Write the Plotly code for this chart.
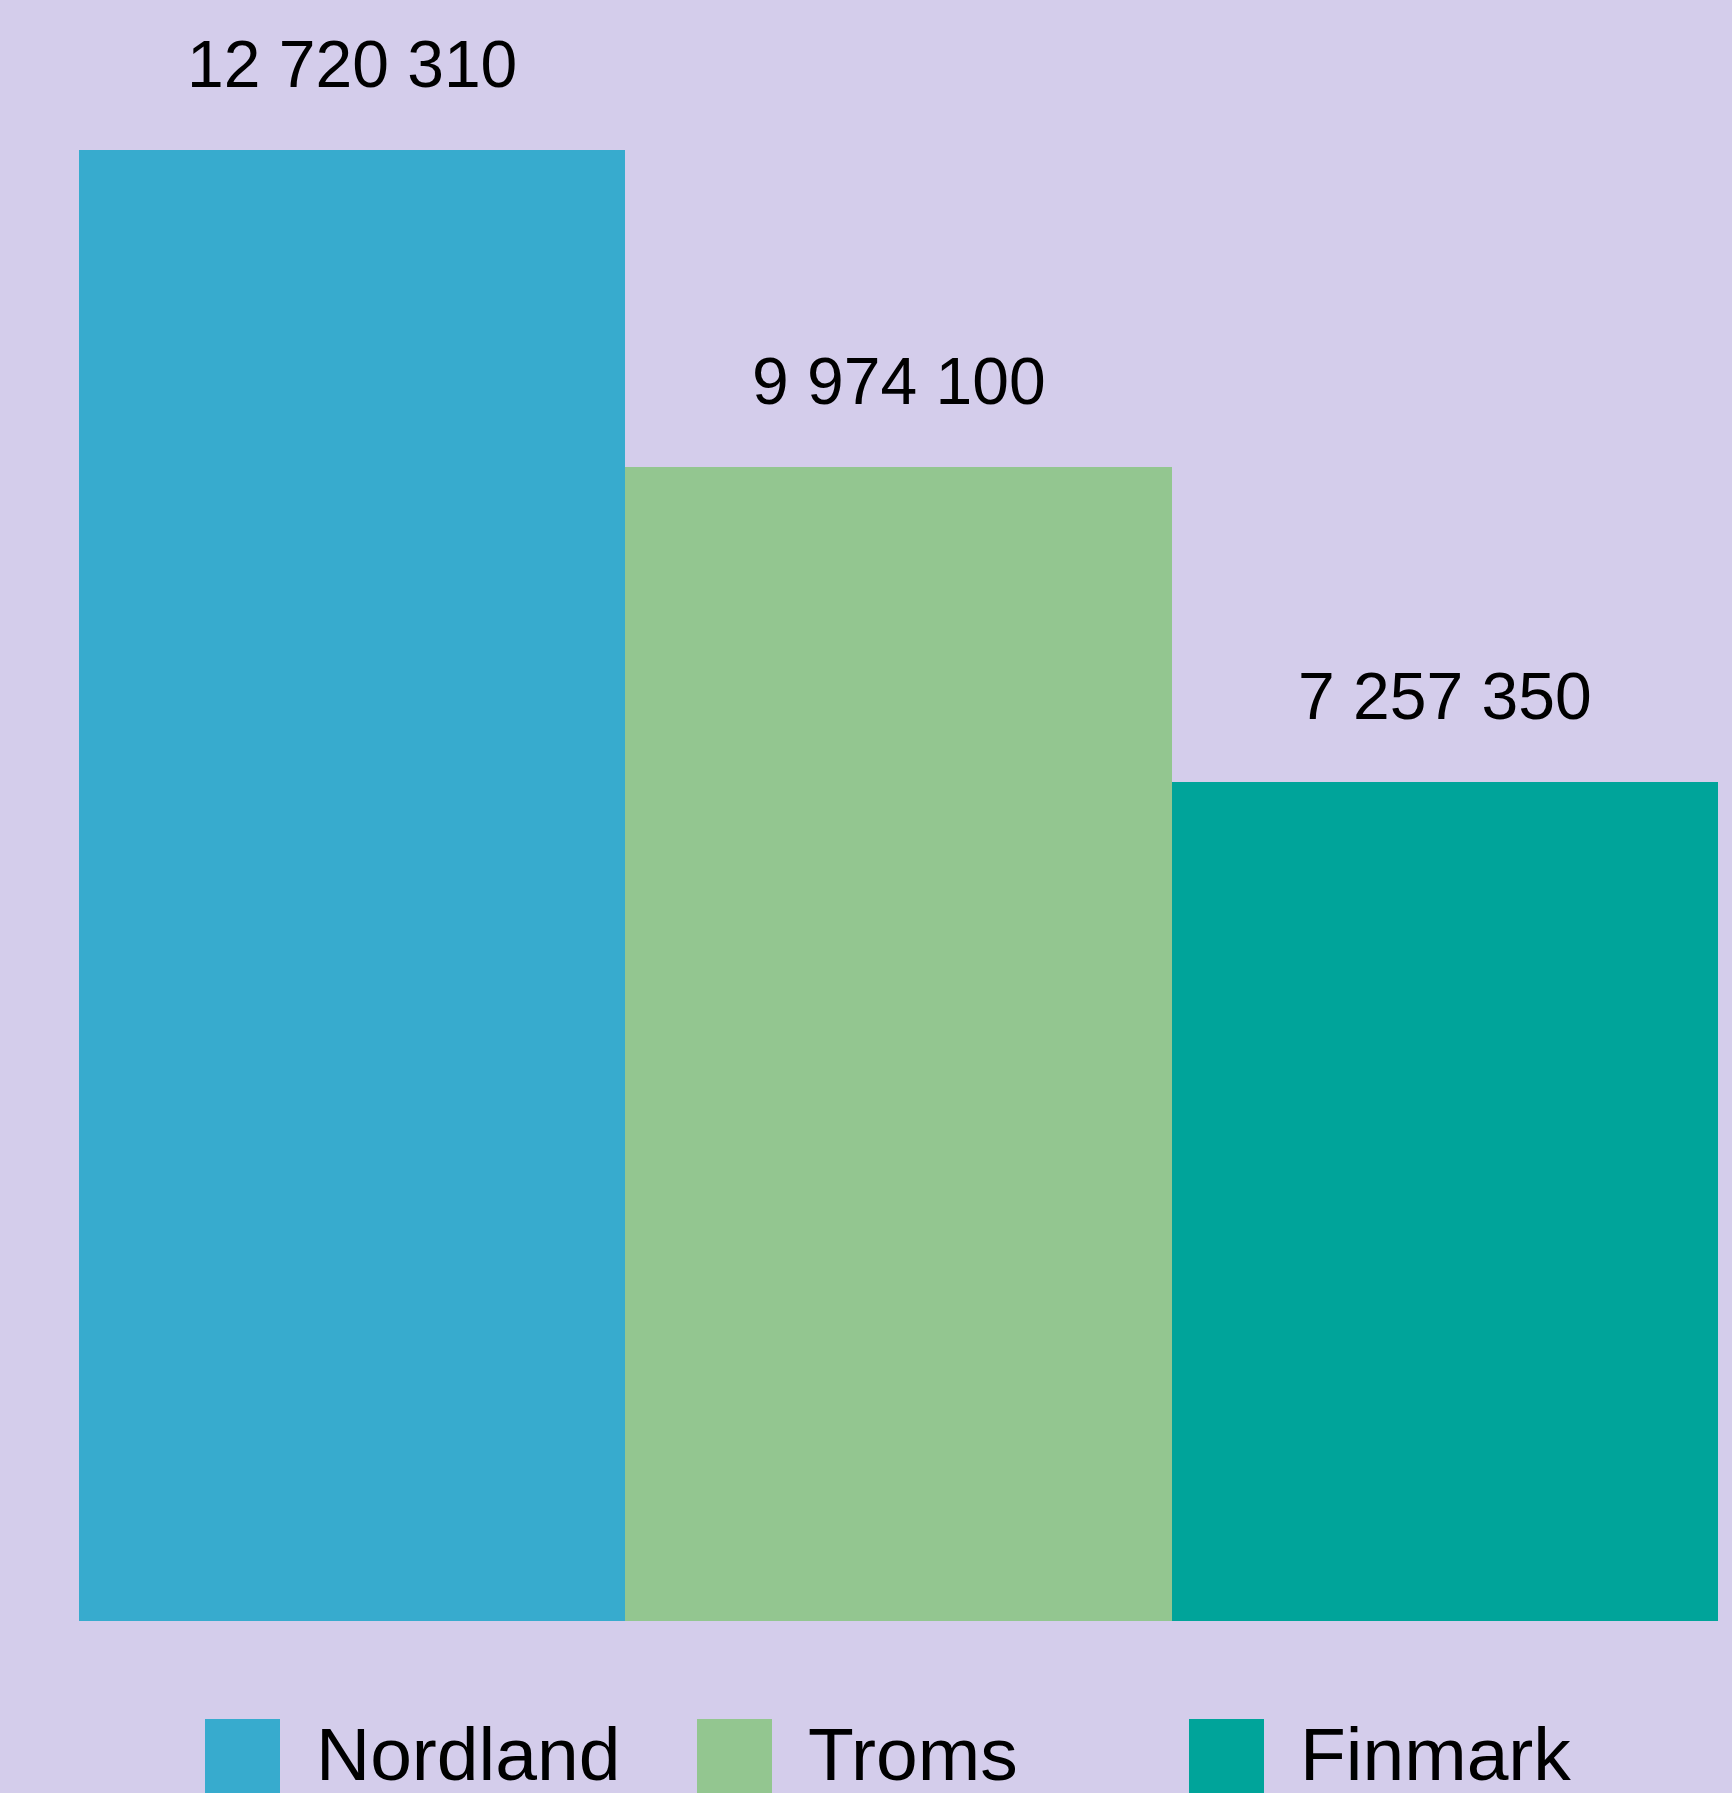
import plotly.graph_objects as go

# Data
categories = ["Nordland", "Troms", "Finmark"]
values = [12720310, 9974100, 7257350]
colors = ["#37ABCE", "#93C690", "#00A49A"]

W, H = 1732, 1793
BG = "#D4CDEB"
FONT = "Liberation Sans, Arial, Helvetica, sans-serif"

def fmt(v):
    return f"{v:,}".replace(",", " ")

fig = go.Figure()
fig.add_trace(go.Bar(
    x=categories, y=values, marker=dict(color=colors, line=dict(width=0)),
    showlegend=False, hoverinfo="skip",
))

# value labels above bars
for c, v in zip(categories, values):
    fig.add_annotation(x=c, y=v, xref="x", yref="y", text=fmt(v), showarrow=False,
                       yanchor="middle", yshift=86,
                       font=dict(family=FONT, size=66, color="#000000"))

# custom legend (large square keys)
key_left0 = 205
key_step = 492
key_size = 75
key_top = 1719
for i, (c, col) in enumerate(zip(categories, colors)):
    x0 = key_left0 + i * key_step
    fig.add_shape(type="rect", xref="paper", yref="paper",
                  x0=x0 / W, x1=(x0 + key_size) / W,
                  y0=-0.02, y1=1 - key_top / H,
                  fillcolor=col, line=dict(width=0), layer="above")
    fig.add_annotation(xref="paper", yref="paper", x=(x0 + key_size + 34) / W,
                       y=1 - 1754 / H, text=c, showarrow=False,
                       xanchor="left", yanchor="middle",
                       font=dict(family=FONT, size=75, color="#000000"))

plot_left, plot_right, plot_bottom = 78.9, 1718.3, 1621
px_per_unit = (plot_bottom - 149.8) / values[0]
ymax = plot_bottom / px_per_unit

fig.update_layout(
    width=W, height=H, autosize=False,
    margin=dict(l=0, r=0, t=0, b=0, pad=0),
    paper_bgcolor=BG, plot_bgcolor=BG,
    bargap=0,
    xaxis=dict(domain=[plot_left / W, plot_right / W], visible=False,
               range=[-0.5, 2.5]),
    yaxis=dict(domain=[1 - plot_bottom / H, 1], visible=False,
               range=[0, ymax]),
)

fig.write_html("out.html",
               post_script="document.body.style.margin='0';document.body.style.overflow='hidden';",
               config={"displayModeBar": False})
